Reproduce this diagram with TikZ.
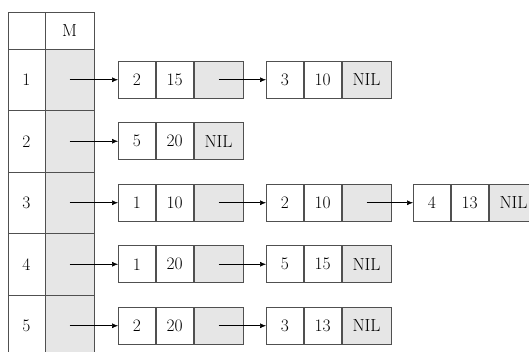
\documentclass[tikz,border=0pt]{standalone}
\usetikzlibrary{arrows.meta}
\definecolor{linecol}{HTML}{505050}
\definecolor{gfill}{HTML}{E6E6E6}
\newcommand\listnode[5]{%
  \node[lcell, minimum width=37pt, anchor=west] (#1a) at #2 {#3};
  \node[lcell, minimum width=37pt, anchor=west] (#1b) at (#1a.east) {#4};
  \node[lcell, minimum width=49pt, anchor=west, fill=gfill] (#1c) at (#1b.east) {#5};}
\begin{document}
\begin{tikzpicture}[x=1pt,y=-1pt,
  tcell/.style={draw=linecol, line width=0.8pt, inner sep=0pt, font=\fontsize{17.5}{20}\selectfont},
  lcell/.style={draw=linecol, line width=0.8pt, inner sep=0pt, minimum height=37pt, font=\fontsize{17.5}{20}\selectfont},
  arr/.style={-{Latex[length=6pt,width=5pt]}, line width=0.6pt, black}]
\useasboundingbox (0,0) rectangle (529,351);
\clip (0,0) rectangle (529,351);
% table header
\node[tcell, minimum width=37pt, minimum height=37pt] (h0) at (26.5,30.5) {};
\node[tcell, minimum width=49pt, minimum height=37pt] (h1) at (69.5,30.5) {M};
% table rows
\foreach \i/\yc in {1/79.75, 2/141.25, 3/202.75, 4/264.25, 5/325.75}{
  \node[tcell, minimum width=37pt, minimum height=61.5pt] (i\i) at (26.5,\yc) {\i};
  \node[tcell, minimum width=49pt, minimum height=61.5pt, fill=gfill] (m\i) at (69.5,\yc) {};
}
% lists
\listnode{pa}{(118,79.75)}{2}{15}{}
\listnode{pb}{(266,79.75)}{3}{10}{NIL}
\listnode{qa}{(118,141.25)}{5}{20}{NIL}
\listnode{ra}{(118,202.75)}{1}{10}{}
\listnode{rb}{(266,202.75)}{2}{10}{}
\listnode{rc}{(413,202.75)}{4}{13}{NIL}
\listnode{sa}{(118,264.25)}{1}{20}{}
\listnode{sb}{(266,264.25)}{5}{15}{NIL}
\listnode{ta}{(118,325.75)}{2}{20}{}
\listnode{tb}{(266,325.75)}{3}{13}{NIL}
% arrows
\draw[arr] (m1.center) -- (paa.west);
\draw[arr] (pac.center) -- (pba.west);
\draw[arr] (m2.center) -- (qaa.west);
\draw[arr] (m3.center) -- (raa.west);
\draw[arr] (rac.center) -- (rba.west);
\draw[arr] (rbc.center) -- (rca.west);
\draw[arr] (m4.center) -- (saa.west);
\draw[arr] (sac.center) -- (sba.west);
\draw[arr] (m5.center) -- (taa.west);
\draw[arr] (tac.center) -- (tba.west);
\end{tikzpicture}
\end{document}
